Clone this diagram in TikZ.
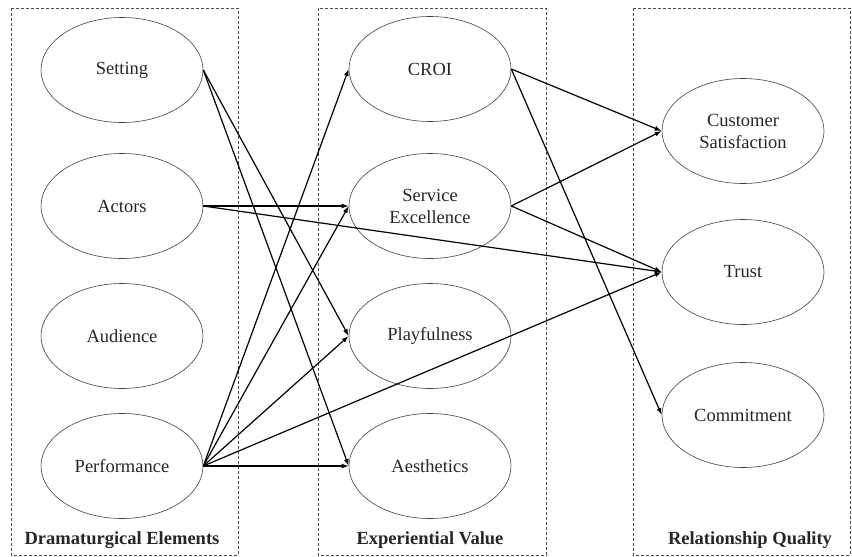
\documentclass[tikz,border=0pt]{standalone}
\usepackage{fontspec}
\setmainfont{Liberation Serif}
\usetikzlibrary{arrows.meta}
\usetikzlibrary{shapes.geometric}

\tikzset{
  oval/.style={ellipse, draw=black!75, line width=.6pt, minimum width=162pt, minimum height=105pt,
    inner sep=0pt, align=center, text=black!85, font=\fontsize{18.5}{22}\selectfont},
  frame/.style={draw=black!70, line width=.6pt, dash pattern=on 3pt off 2pt},
  framelabel/.style={text=black!85, font=\fontsize{18.5}{22}\selectfont\bfseries},
  link/.style={-{Latex[length=7pt,width=5pt]}, line width=1.2pt}
}

\begin{document}
\begin{tikzpicture}[x=1pt, y=-1pt]
\useasboundingbox (0,0) rectangle (852,557);
% the three dashed groups
\draw[frame] (11,8) rectangle (238,555);
\draw[frame] (318,8) rectangle (546,555);
\draw[frame] (633,8) rectangle (850,555);
\node[framelabel] (dramlab) at (122,540) {Dramaturgical Elements};
\node[framelabel] (explab) at (430,540) {Experiential Value};
\node[framelabel] (rellab) at (750,540) {Relationship Quality};

% constructs
\foreach \name/\y/\txt in {setting/70/Setting, actors/206/Actors, audience/336/Audience, perform/466/Performance}
  \node[oval] (\name) at (122,\y) {\txt};
\foreach \name/\y/\txt in {croi/69/CROI, service/206/{Service\\Excellence}, play/336/Playfulness, aesth/466/Aesthetics}
  \node[oval] (\name) at (430,\y) {\txt};
\foreach \name/\y/\txt in {satis/131/{Customer\\Satisfaction}, trust/272/Trust, commit/415/Commitment}
  \node[oval] (\name) at (743,\y) {\txt};

% paths
\foreach \a/\b in {setting/play, setting/aesth, actors/service, actors/trust,
    perform/croi, perform/service, perform/play, perform/trust, perform/aesth,
    croi/satis, croi/commit, service/satis, service/trust}
  \draw[link] (\a.east) -- (\b.west);
\end{tikzpicture}
\end{document}
